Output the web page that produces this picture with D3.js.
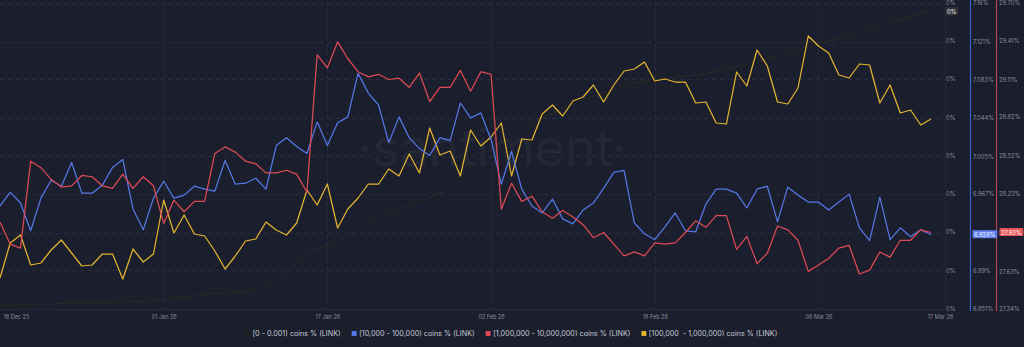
<!DOCTYPE html>
<html><head><meta charset="utf-8">
<script src="https://cdn.jsdelivr.net/npm/d3@7"></script>
<style>
html,body{margin:0;padding:0;background:#1b1e2c;overflow:hidden}
svg{display:block}
text{font-family:Inter,"Noto Sans",sans-serif}
</style>
</head><body>
<svg id="chart" width="1024" height="347"></svg>
<script>
// ---------- data ----------
const startDay = "2025-12-16";
const endDay = "2026-03-17";
const xTickDates = ["2025-12-16","2026-01-01","2026-01-17","2026-02-02","2026-02-18","2026-03-06","2026-03-17"];

const seriesNames = ["[0 - 0.001) coins % (LINK)","[10,000 - 100,000) coins % (LINK)","[1,000,000 - 10,000,000) coins % (LINK)","[100,000  - 1,000,000) coins % (LINK)"];
const seriesColors = ["#2a2922","#5577e6","#de4a55","#e3b330"];

const blackTicks = [0,0.038,0.077,0.115,0.153,0.191,0.23,0.268,0.306];
const blueTicks = [6.851,6.89,6.928,6.967,7.005,7.044,7.083,7.121,7.16];
const redTicks = [27.34,27.63,27.93,28.23,28.52,28.82,29.11,29.41,29.70];
const yellowDomain = [20.0,23.06];

const blackValues = [0.004,0.004,0.004,0.0045,0.005,0.005,0.0055,0.006,0.006,0.0065,0.0065,0.007,0.007,0.0075,0.0075,0.009,0.0105,0.011,0.0113,0.013,
0.0147,0.0155,0.016,0.0165,0.0175,0.020,0.0245,0.0295,0.0365,0.046,0.055,0.060,0.064,0.0673,0.073,0.079,0.087,0.092,0.096,0.100,
0.104,0.1075,0.112,0.1157,0.124,0.133,0.143,0.152,0.161,0.165,0.1695,0.181,0.187,0.191,0.1955,0.201,0.205,0.209,0.213,0.2155,
0.2195,0.223,0.226,0.2275,0.2297,0.231,0.232,0.233,0.234,0.2355,0.238,0.240,0.2425,0.2445,0.2475,0.2505,0.2525,0.256,0.2595,0.2625,
0.265,0.268,0.2705,0.274,0.277,0.2805,0.284,0.287,0.2895,0.292,0.296,0.2973];

const blueValues = [6.955,6.969,6.958,6.930,6.963,6.981,6.975,6.999,6.968,6.968,6.976,6.994,7.002,6.952,6.931,6.963,6.980,6.963,6.966,6.975,
6.972,6.970,7.001,6.977,6.978,6.983,6.972,7.016,7.024,7.015,7.008,7.040,7.016,7.039,7.045,7.089,7.069,7.057,7.019,7.045,
7.024,7.013,7.006,7.024,7.021,7.059,7.044,7.049,7.022,6.977,7.010,6.972,6.955,6.948,6.962,6.942,6.937,6.951,6.958,6.973,
6.989,6.991,6.938,6.927,6.921,6.934,6.948,6.930,6.929,6.957,6.972,6.972,6.968,6.953,6.972,6.975,6.939,6.974,6.966,6.959,
6.959,6.951,6.959,6.967,6.933,6.920,6.964,6.921,6.933,6.924,6.931,6.926];

const redValues = [28.01,27.84,27.81,28.48,28.43,28.34,28.28,28.29,28.37,28.36,28.29,28.27,28.38,28.27,28.36,28.29,28.00,28.18,28.09,28.17,
28.17,28.54,28.59,28.55,28.48,28.46,28.39,28.39,28.41,28.38,28.24,29.30,29.20,29.40,29.27,29.17,29.13,29.15,29.11,29.12,
29.05,29.16,28.94,29.05,29.05,29.18,29.02,29.17,29.15,28.11,28.31,28.17,28.21,28.09,28.04,28.10,28.05,27.99,27.89,27.93,
27.84,27.75,27.78,27.75,27.85,27.84,27.85,27.93,28.02,27.97,28.06,28.06,27.80,27.90,27.69,27.77,27.98,27.95,27.87,27.63,
27.68,27.73,27.81,27.83,27.61,27.64,27.78,27.74,27.87,27.87,27.95,27.93];

const yellowValues = [20.31,20.66,20.74,20.44,20.46,20.59,20.69,20.56,20.43,20.44,20.55,20.55,20.30,20.60,20.47,20.55,21.09,20.76,20.94,20.75,
20.73,20.58,20.40,20.53,20.68,20.70,20.87,20.79,20.74,20.86,21.19,21.04,21.25,20.81,21.00,21.11,21.25,21.25,21.40,21.33,
21.55,21.36,21.81,21.54,21.58,21.33,21.79,21.63,21.72,21.86,21.33,21.70,21.69,21.95,22.04,21.93,22.08,22.12,22.24,22.07,
22.24,22.38,22.40,22.47,22.28,22.30,22.27,22.27,22.06,22.07,21.86,21.85,22.37,22.23,22.59,22.43,22.07,22.05,22.21,22.73,
22.63,22.56,22.34,22.31,22.45,22.44,22.06,22.24,21.96,21.99,21.84,21.90];

// ---------- layout ----------
const W = 1024, H = 347;
const plot = {left: 0, right: 931, top: 3, bottom: 309, edge: 945};
const svg = d3.select("#chart");
svg.append("rect").attr("width", W).attr("height", H).attr("fill", "#1b1e2c");

const parse = d3.utcParse("%Y-%m-%d");
const dates = d3.utcDay.range(parse(startDay), d3.utcDay.offset(parse(endDay), 1));
const x = d3.scaleUtc().domain([parse(startDay), parse(endDay)]).range([plot.left, plot.right]);

const yBlack = d3.scaleLinear().domain([blackTicks[0], blackTicks[blackTicks.length-1]]).range([plot.bottom, plot.top]);
const yBlue = d3.scaleLinear().domain([blueTicks[0], blueTicks[blueTicks.length-1]]).range([plot.bottom, plot.top]);
const yRed = d3.scaleLinear().domain([redTicks[0], redTicks[redTicks.length-1]]).range([plot.bottom, plot.top]);
const yYellow = d3.scaleLinear().domain(yellowDomain).range([plot.bottom, plot.top]);

// watermark
svg.append("text").attr("x", 492).attr("y", 166).attr("text-anchor", "middle")
  .attr("font-size", 52).attr("fill", "#232736").attr("font-weight", 400)
  .text("·santiment·");

// horizontal grid
const gGrid = svg.append("g");
gGrid.selectAll("line.h").data(blueTicks).join("line").attr("class","h")
  .attr("x1", 0).attr("x2", plot.edge)
  .attr("y1", d => Math.round(yBlue(d)) + 0.5).attr("y2", d => Math.round(yBlue(d)) + 0.5)
  .attr("stroke", "#282c3c").attr("stroke-dasharray", "4,4");
// vertical grid
const xTicks = xTickDates.map(parse);
gGrid.selectAll("line.v").data(xTicks.slice(1, -1)).join("line").attr("class","v")
  .attr("x1", d => Math.round(x(d)) + 0.5).attr("x2", d => Math.round(x(d)) + 0.5)
  .attr("y1", plot.top).attr("y2", plot.bottom)
  .attr("stroke", "#282c3c").attr("stroke-dasharray", "4,4");

// bottom axis
const xAxis = d3.axisBottom(x).tickValues(xTicks).tickFormat(d3.utcFormat("%d %b %y")).tickSize(0).tickPadding(6);
const gx = svg.append("g").attr("transform", `translate(0,${plot.bottom})`).call(xAxis);
gx.select(".domain").attr("stroke", "#262a39").attr("d", `M0,0.5H${plot.edge}`);
gx.selectAll("text").attr("fill", "#868b9c").attr("font-size", 5.5);
gx.selectAll(".tick").filter((d,i) => i === 0).select("text").attr("text-anchor", "start").attr("dx", 3);
gx.selectAll(".tick").filter((d,i) => i === xTicks.length - 1).select("text").attr("dx", 9);

// right edge line
svg.append("line").attr("x1", plot.edge + 0.5).attr("x2", plot.edge + 0.5).attr("y1", 0).attr("y2", plot.bottom)
  .attr("stroke", "#23262f");

// lines
const series = [
  {vals: blackValues, y: yBlack, color: seriesColors[0], w: 1},
  {vals: yellowValues, y: yYellow, color: seriesColors[3], w: 1.25},
  {vals: blueValues, y: yBlue, color: seriesColors[1], w: 1.25},
  {vals: redValues, y: yRed, color: seriesColors[2], w: 1.25}
];
series.forEach(s => {
  const line = d3.line().x((d,i) => x(dates[i])).y(d => s.y(d));
  svg.append("path").datum(s.vals).attr("d", line).attr("fill", "none")
    .attr("stroke", s.color).attr("stroke-width", s.w).attr("stroke-linejoin", "round");
});

// right axes
function rightAxis(scale, ticks, fmt, xPos, lineColor) {
  const ax = d3.axisRight(scale).tickValues(ticks).tickFormat(fmt).tickSize(0).tickPadding(3);
  const g = svg.append("g").attr("transform", `translate(${xPos},0)`).call(ax);
  g.select(".domain").attr("stroke", lineColor || "none").attr("stroke-width", 1.2)
   .attr("d", `M0.5,0V${plot.bottom + 2}`);
  g.selectAll("text").attr("fill", "#8a8fa1").attr("font-size", 5.8);
  return g;
}
rightAxis(yBlack, blackTicks, d => d3.format(".0f")(d) + "%", 943, null);
rightAxis(yBlue, blueTicks, d => d3.format(".4~r")(d) + "%", 970, "#3c5fd6");
rightAxis(yRed, redTicks, d => d3.format(".2f")(d) + "%", 996, "#b34452");

// last value badges
function badge(xPos, yPos, text, bg, fg) {
  const t = svg.append("text").attr("x", xPos + 2).attr("y", yPos).attr("dy", "0.35em")
    .attr("font-size", 5.8).attr("fill", fg).text(text);
  const bb = t.node().getBBox();
  svg.insert("rect", () => t.node()).attr("x", bb.x - 1.5).attr("y", bb.y - 0.5)
    .attr("width", bb.width + 3).attr("height", bb.height + 1).attr("rx", 1).attr("fill", bg);
}
badge(945, yBlack(blackValues[blackValues.length-1]), d3.format(".0f")(blackValues[blackValues.length-1]) + "%", "#34343a", "#f0f0f0");
badge(972, yBlue(blueValues[blueValues.length-1]), d3.format(".4~r")(blueValues[blueValues.length-1]) + "%", "#5a7df0", "#ffffff");
badge(999, yRed(redValues[redValues.length-1]), d3.format(".2f")(redValues[redValues.length-1]) + "%", "#e5545b", "#ffffff");

// legend
const legendItems = [0,1,2,3].map(i => ({name: seriesNames[i], color: seriesColors[i] === "#2a2922" ? "#1f1f1f" : seriesColors[i]}));
const gL = svg.append("g");
let lx = 0;
const items = gL.selectAll("g").data(legendItems).join("g");
items.each(function(d) {
  const g = d3.select(this);
  g.append("rect").attr("x", 0).attr("y", -2.5).attr("width", 5).attr("height", 5).attr("rx", 0.8).attr("fill", d.color);
  g.append("text").attr("x", 7.5).attr("y", 0).attr("dy", "0.35em").attr("font-size", 7.2)
    .attr("fill", "#c5c9d6").style("white-space", "pre").text(d.name);
});
items.attr("transform", function() {
  const w = this.getBBox().width;
  const tr = `translate(${lx},0)`;
  lx += w + 11;
  return tr;
});
const totalW = lx - 11;
gL.attr("transform", `translate(${Math.round(511 - totalW / 2)},333.5)`);
</script>
</body></html>
